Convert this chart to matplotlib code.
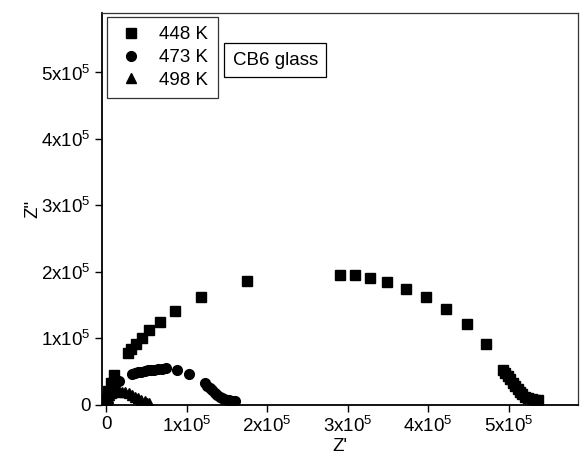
import numpy as np
import matplotlib
matplotlib.use("Agg")
import matplotlib.pyplot as plt
from matplotlib.ticker import FixedLocator, FuncFormatter

plt.rcParams['font.family'] = ['Liberation Sans', 'DejaVu Sans']
plt.rcParams['mathtext.fontset'] = 'custom'
plt.rcParams['mathtext.rm'] = 'Liberation Sans'
plt.rcParams['mathtext.it'] = 'Liberation Sans:italic'
plt.rcParams['mathtext.bf'] = 'Liberation Sans:bold'

SCALE = 1e5  # values below are in units of 1e5 ohm

# 448 K
z1_re = [0.01, 0.03, 0.06, 0.103, 0.277, 0.307, 0.369, 0.443, 0.530, 0.667, 0.857,
         1.176, 1.748, 2.907, 3.089, 3.283, 3.494, 3.730, 3.971, 4.227, 4.480,
         4.720, 4.928, 4.957, 4.988, 5.019, 5.050, 5.081, 5.112, 5.143, 5.168,
         5.205, 5.248, 5.292, 5.329, 5.366]
z1_im = [0.08, 0.20, 0.32, 0.444, 0.771, 0.836, 0.911, 1.006, 1.117, 1.247, 1.413,
         1.623, 1.864, 1.955, 1.946, 1.905, 1.840, 1.744, 1.623, 1.443, 1.212,
         0.911, 0.527, 0.474, 0.422, 0.377, 0.331, 0.279, 0.233, 0.188, 0.151,
         0.120, 0.098, 0.083, 0.075, 0.068]

# 473 K
z2_re = [0.005, 0.02, 0.05, 0.10, 0.161, 0.32, 0.36, 0.40, 0.44, 0.48, 0.52, 0.56,
         0.60, 0.64, 0.69, 0.75, 0.886, 1.031, 1.23, 1.26, 1.29, 1.32, 1.35, 1.38,
         1.41, 1.44, 1.47, 1.50, 1.53, 1.56, 1.60]
z2_im = [0.03, 0.10, 0.20, 0.30, 0.354, 0.455, 0.47, 0.485, 0.495, 0.505, 0.515,
         0.52, 0.527, 0.535, 0.54, 0.545, 0.52, 0.455, 0.32, 0.285, 0.25, 0.215,
         0.18, 0.15, 0.12, 0.095, 0.08, 0.07, 0.065, 0.06, 0.057]

# 498 K
z3_re = [0.0, 0.01, 0.02, 0.04, 0.06, 0.09, 0.12, 0.16, 0.20, 0.24, 0.28, 0.32,
         0.36, 0.40, 0.44, 0.48, 0.51, 0.54]
z3_im = [0.02, 0.06, 0.10, 0.14, 0.17, 0.19, 0.20, 0.20, 0.195, 0.19, 0.17, 0.15,
         0.12, 0.10, 0.07, 0.05, 0.03, 0.02]

labels = ["448 K", "473 K", "498 K"]
markers = ["s", "o", "^"]
x_ticks = [0, 1, 2, 3, 4, 5]
y_ticks = [0, 1, 2, 3, 4, 5]


def sci_label(v, pos):
    k = int(round(v / SCALE))
    if k == 0:
        return "0"
    return r"$\mathregular{%dx10^5}$" % k


fig = plt.figure(figsize=(5.81, 4.66), dpi=100)
ax = fig.add_axes([101.5 / 581, (466 - 405) / 466, 476.5 / 581, 392 / 466])

series = [(z1_re, z1_im), (z2_re, z2_im), (z3_re, z3_im)]
for (xr, yi), lab, m in zip(series, labels, markers):
    ax.plot(np.array(xr) * SCALE, np.array(yi) * SCALE, linestyle="none",
            marker=m, markersize=7, color="black", label=lab)

ax.set_xlim(-0.056 * SCALE, 5.863 * SCALE)
ax.set_ylim(-0.0075 * SCALE, 5.896 * SCALE)

ax.xaxis.set_major_locator(FixedLocator([t * SCALE for t in x_ticks]))
ax.yaxis.set_major_locator(FixedLocator([t * SCALE for t in y_ticks]))
ax.xaxis.set_major_formatter(FuncFormatter(sci_label))
ax.yaxis.set_major_formatter(FuncFormatter(sci_label))
ax.tick_params(direction="out", length=5, width=1, labelsize=13.5, pad=3)

for side in ["left", "bottom"]:
    ax.spines[side].set_linewidth(1.3)
for side in ["top", "right"]:
    ax.spines[side].set_linewidth(0.9)
    ax.spines[side].set_color("#333333")

ax.set_xlabel("Z'", fontsize=13.5, labelpad=1)
ax.set_ylabel('Z"', fontsize=13.5)
ax.yaxis.set_label_coords(-0.127, 0.5)

leg = ax.legend(loc="upper left", bbox_to_anchor=(0.0115, 0.99), borderaxespad=0,
                prop={'size': 13.5}, frameon=True, fancybox=False, numpoints=1,
                borderpad=0.5, handlelength=1.6, handletextpad=0.7,
                labelspacing=0.3)
leg.get_frame().set_edgecolor("black")
leg.get_frame().set_linewidth(0.9)

ax.text(0.3648, 0.879, "CB6 glass", transform=ax.transAxes, fontsize=13.5,
        ha="center", va="center",
        bbox=dict(boxstyle="square,pad=0.45", facecolor="white",
                  edgecolor="black", linewidth=0.9))

fig.savefig("out.png", dpi=100)
